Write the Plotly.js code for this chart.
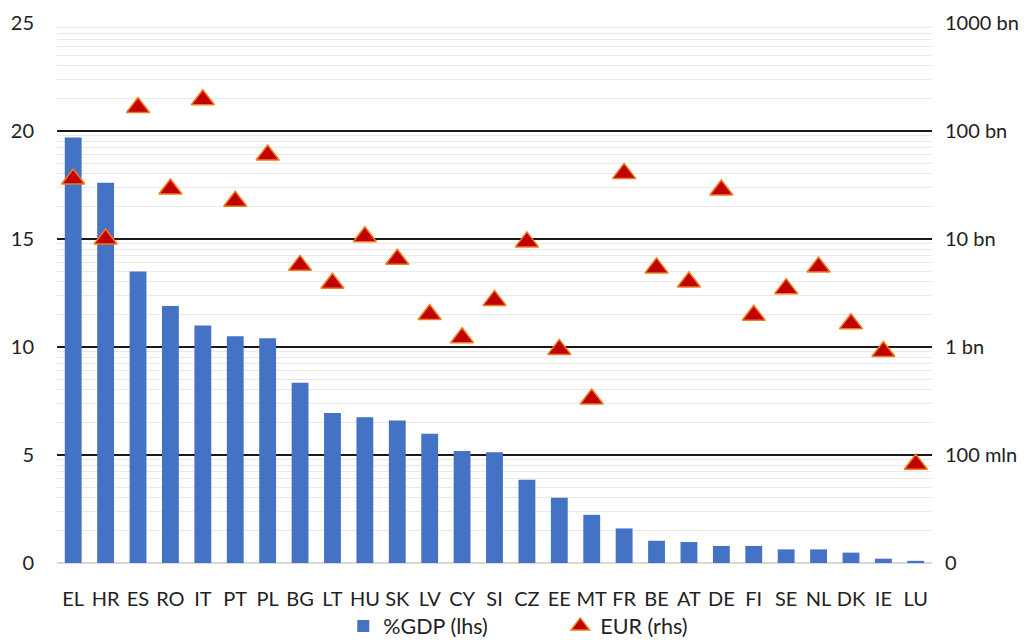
<!DOCTYPE html>
<html>
<head>
<meta charset="utf-8">
<script src="https://cdn.plot.ly/plotly-3.0.1.min.js"></script>
<style>html,body{margin:0;padding:0;background:#fff}#chart{width:1034px;height:640px}</style>
</head>
<body>
<div id="chart"></div>
<script>
var countries = ['EL','HR','ES','RO','IT','PT','PL','BG','LT','HU','SK','LV','CY','SI','CZ','EE','MT','FR','BE','AT','DE','FI','SE','NL','DK','IE','LU'];
var gdpShare = [19.7,17.6,13.5,11.9,11.0,10.5,10.4,8.35,6.94,6.75,6.6,5.98,5.19,5.13,3.85,3.02,2.23,1.6,1.03,0.97,0.79,0.79,0.63,0.63,0.48,0.2,0.1];
var eurAmount = [3.6e10,1.0e10,1.65e11,2.9e10,1.95e11,2.24e10,6.0e10,5.7e9,3.9e9,1.05e10,6.5e9,2.0e9,1.22e9,2.7e9,9.4e9,9.5e8,3.3e8,4.05e10,5.4e9,4.0e9,2.84e10,1.97e9,3.47e9,5.5e9,1.64e9,9.1e8,8.2e7];
var leftTicks = [0,5,10,15,20,25];
var rightTickVals = [1e7,1e8,1e9,1e10,1e11,1e12];
var rightTickText = ['0','100 mln','1 bn','10 bn','100 bn','1000 bn'];

var font = {family:'Lato, "Open Sans", sans-serif', size:20, color:'#222'};
var legendFont = {family:'Lato, "Open Sans", sans-serif', size:21.5, color:'#222'};

var traces = [
  {type:'bar', x:countries, y:gdpShare, name:'%GDP (lhs)', marker:{color:'#4472C4'}, yaxis:'y'},
  {type:'scatter', mode:'markers', x:countries, y:eurAmount, name:'EUR (rhs)', yaxis:'y2',
   marker:{symbol:'triangle-up', size:20, color:'#C00000', line:{color:'#F07B1E', width:1.5}}}
];

var layout = {
  width:1034, height:640,
  margin:{l:57, r:102, t:23, b:77},
  paper_bgcolor:'#fff', plot_bgcolor:'#fff',
  font:font,
  bargap:0.48,
  showlegend:true,
  legend:{orientation:'h', xref:'container', yref:'container', x:0.332, xanchor:'left', y:0.022, yanchor:'middle', font:legendFont,
          bgcolor:'rgba(0,0,0,0)', itemwidth:30, entrywidth:172, entrywidthmode:'pixels', tracegroupgap:0},
  xaxis:{type:'category', range:[-0.5, countries.length-0.5], tickfont:font, showline:false, showgrid:false, automargin:false,
         ticks:'outside', ticklen:18, tickcolor:'rgba(0,0,0,0)'},
  yaxis:{range:[0,25], tickvals:leftTicks, showgrid:true, gridcolor:'#1a1a1a', gridwidth:2, automargin:false,
         zeroline:true, zerolinecolor:'#d9d9d9', zerolinewidth:1.2, showline:false, ticks:'', tickfont:font, ticklabelstandoff:22, fixedrange:true},
  yaxis2:{type:'log', range:[7,12], overlaying:'y', side:'right', tickvals:rightTickVals, ticktext:rightTickText, automargin:false,
          showgrid:false, showline:false, ticks:'', tickfont:font, ticklabelstandoff:12,
          minor:{tickmode:'linear', dtick:'D1', showgrid:true, gridcolor:'#e9e9e9', gridwidth:1, ticks:''}}
};

Plotly.newPlot('chart', traces, layout, {displayModeBar:false, staticPlot:true});
</script>
</body>
</html>
